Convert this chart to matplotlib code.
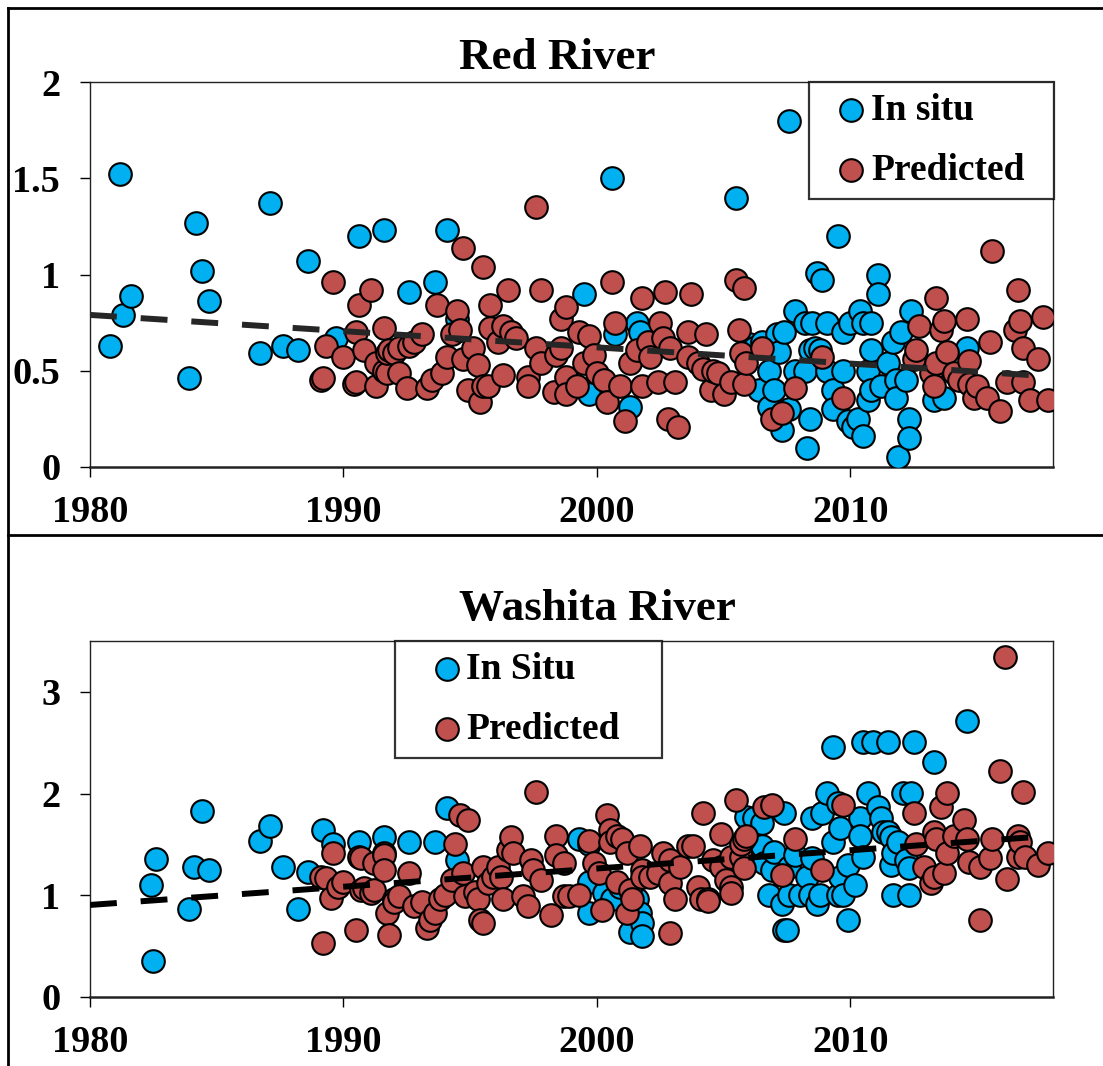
import matplotlib
matplotlib.use("Agg")
import matplotlib.pyplot as plt
from matplotlib.lines import Line2D
from matplotlib.ticker import FuncFormatter

plt.rcParams["font.family"] = ["Liberation Serif", "DejaVu Serif"]
plt.rcParams["font.weight"] = "bold"

# ---- Red River ----
rr_insitu_year = [1980.8, 1981.3, 1981.6, 1981.2, 1983.9, 1984.2, 1984.4, 1984.7, 1986.7, 1987.1,
                  1987.6, 1988.2, 1988.6, 1989.7, 1990.6, 1991.6, 1992.6, 1993.6, 1994.1, 1994.5,
                  1999.5, 1999.7, 2000.6, 2000.7, 2001.3, 2001.6, 2001.7, 2005.5, 2006.0, 2006.2,
                  2006.4, 2006.5, 2006.8, 2006.8, 2007.0, 2007.1, 2007.2, 2007.3, 2007.4, 2007.6,
                  2007.6, 2007.8, 2007.8, 2008.2, 2008.2, 2008.3, 2008.4, 2008.4, 2008.5, 2008.6,
                  2008.7, 2008.8, 2008.9, 2009.1, 2009.1, 2009.3, 2009.3, 2009.5, 2009.7, 2009.7,
                  2009.9, 2010.0, 2010.1, 2010.3, 2010.4, 2010.5, 2010.5, 2010.7, 2010.7, 2010.8,
                  2010.8, 2010.8, 2011.1, 2011.1, 2011.2, 2011.5, 2011.7, 2011.8, 2011.8, 2011.9,
                  2012.0, 2012.2, 2012.3, 2012.3, 2012.4, 2013.3, 2013.7, 2014.6]
rr_insitu_val = [0.63, 0.79, 0.89, 1.52, 0.46, 1.27, 1.02, 0.86, 0.59, 1.37,
                 0.63, 0.61, 1.07, 0.67, 1.20, 1.23, 0.91, 0.96, 1.23, 0.77,
                 0.90, 0.38, 1.50, 0.69, 0.31, 0.75, 0.70, 1.40, 0.64, 0.62,
                 0.40, 0.65, 0.50, 0.31, 0.40, 0.69, 0.60, 0.19, 0.70, 1.80,
                 0.30, 0.81, 0.50, 0.75, 0.50, 0.10, 0.61, 0.25, 0.75, 0.62,
                 1.01, 0.61, 0.97, 0.75, 0.50, 0.40, 0.30, 1.20, 0.70, 0.50,
                 0.24, 0.75, 0.21, 0.25, 0.81, 0.75, 0.16, 0.50, 0.35, 0.75,
                 0.61, 0.40, 1.00, 0.90, 0.42, 0.54, 0.65, 0.45, 0.36, 0.05,
                 0.70, 0.45, 0.25, 0.15, 0.81, 0.35, 0.36, 0.62]

rr_pred_year = [1989.1, 1989.2, 1989.3, 1989.6, 1990.0, 1990.4, 1990.5, 1990.5, 1990.6, 1990.8,
                1991.1, 1991.3, 1991.3, 1991.6, 1991.6, 1991.7, 1991.7, 1991.8, 1992.0, 1992.2,
                1992.2, 1992.5, 1992.6, 1992.8, 1993.1, 1993.3, 1993.5, 1993.7, 1993.9, 1994.1,
                1994.3, 1994.5, 1994.6, 1994.7, 1994.7, 1994.9, 1995.1, 1995.3, 1995.4, 1995.5,
                1995.5, 1995.7, 1995.8, 1995.8, 1996.1, 1996.3, 1996.3, 1996.5, 1996.6, 1996.8,
                1997.3, 1997.3, 1997.6, 1997.6, 1997.8, 1997.8, 1998.3, 1998.4, 1998.6, 1998.6,
                1998.8, 1998.8, 1998.8, 1999.2, 1999.3, 1999.5, 1999.7, 1999.9, 2000.0, 2000.3,
                2000.4, 2000.6, 2000.7, 2000.9, 2001.1, 2001.3, 2001.6, 2001.8, 2001.8, 2002.0,
                2002.1, 2002.4, 2002.5, 2002.6, 2002.7, 2002.8, 2002.9, 2003.1, 2003.2, 2003.6,
                2003.6, 2003.7, 2004.0, 2004.2, 2004.3, 2004.5, 2004.6, 2004.8, 2005.0, 2005.3,
                2005.5, 2005.6, 2005.7, 2005.8, 2005.8, 2005.9, 2006.5, 2006.9, 2007.3, 2007.8,
                2008.9, 2009.7, 2012.5, 2012.6, 2012.7, 2013.2, 2013.3, 2013.4, 2013.4, 2013.6,
                2013.7, 2013.8, 2014.1, 2014.3, 2014.6, 2014.7, 2014.7, 2014.9, 2015.0, 2015.4,
                2015.5, 2015.6, 2015.9, 2016.2, 2016.5, 2016.6, 2016.7, 2016.8, 2016.8, 2017.1,
                2017.4, 2017.6, 2017.8]
rr_pred_val = [0.45, 0.46, 0.63, 0.96, 0.57, 0.43, 0.70, 0.44, 0.84, 0.61,
               0.92, 0.42, 0.54, 0.72, 0.50, 0.49, 0.59, 0.61, 0.59, 0.62,
               0.49, 0.41, 0.63, 0.65, 0.69, 0.41, 0.45, 0.84, 0.49, 0.57,
               0.69, 0.81, 0.71, 1.14, 0.56, 0.40, 0.62, 0.53, 0.34, 1.04,
               0.42, 0.42, 0.84, 0.72, 0.65, 0.73, 0.48, 0.92, 0.70, 0.67,
               0.47, 0.42, 1.35, 0.62, 0.92, 0.54, 0.39, 0.58, 0.77, 0.62,
               0.83, 0.47, 0.38, 0.42, 0.70, 0.54, 0.68, 0.58, 0.49, 0.45,
               0.34, 0.96, 0.75, 0.42, 0.24, 0.54, 0.61, 0.88, 0.42, 0.65,
               0.57, 0.44, 0.75, 0.67, 0.91, 0.25, 0.62, 0.44, 0.21, 0.70,
               0.57, 0.90, 0.54, 0.51, 0.69, 0.40, 0.50, 0.49, 0.38, 0.44,
               0.97, 0.71, 0.59, 0.93, 0.43, 0.54, 0.62, 0.25, 0.28, 0.41,
               0.57, 0.36, 0.56, 0.61, 0.73, 0.49, 0.42, 0.88, 0.54, 0.71,
               0.76, 0.60, 0.49, 0.45, 0.77, 0.55, 0.43, 0.36, 0.42, 0.36,
               0.65, 1.12, 0.29, 0.44, 0.71, 0.92, 0.76, 0.62, 0.44, 0.35,
               0.56, 0.78, 0.35]

rr_trend_year = [1980.0, 2017.4]
rr_trend_val = [0.79, 0.475]

# ---- Washita River ----
wr_insitu_year = [1982.4, 1982.5, 1982.6, 1983.9, 1984.1, 1984.4, 1984.7, 1986.7, 1987.1, 1987.6,
                  1988.2, 1988.6, 1989.2, 1989.6, 1990.6, 1991.6, 1992.6, 1993.6, 1994.1, 1994.5,
                  1999.3, 1999.7, 1999.7, 1999.7, 2000.3, 2000.6, 2000.9, 2001.3, 2001.6, 2001.7,
                  2001.8, 2001.8, 2005.9, 2006.2, 2006.5, 2006.5, 2006.6, 2006.8, 2006.9, 2007.0,
                  2007.3, 2007.4, 2007.4, 2007.5, 2007.6, 2007.6, 2007.8, 2008.0, 2008.3, 2008.4,
                  2008.5, 2008.5, 2008.7, 2008.8, 2008.9, 2009.1, 2009.3, 2009.3, 2009.5, 2009.5,
                  2009.6, 2009.6, 2009.7, 2009.9, 2009.9, 2010.2, 2010.4, 2010.4, 2010.5, 2010.5,
                  2010.7, 2010.9, 2011.1, 2011.2, 2011.3, 2011.5, 2011.5, 2011.6, 2011.6, 2011.7,
                  2011.7, 2011.9, 2012.1, 2012.2, 2012.3, 2012.3, 2012.4, 2012.5, 2013.3, 2014.6]
wr_insitu_val = [1.10, 0.35, 1.36, 0.87, 1.28, 1.83, 1.25, 1.53, 1.68, 1.28,
                 0.87, 1.23, 1.64, 1.50, 1.52, 1.57, 1.52, 1.52, 1.86, 1.35,
                 1.55, 1.50, 1.13, 0.83, 1.02, 0.96, 1.08, 0.64, 0.96, 0.83,
                 0.73, 0.60, 1.77, 1.76, 1.71, 1.48, 1.32, 1.00, 1.25, 1.43,
                 0.91, 1.81, 0.66, 0.66, 1.28, 1.00, 1.40, 1.00, 1.18, 1.00,
                 1.76, 1.37, 0.91, 1.00, 1.81, 2.01, 2.46, 1.52, 1.91, 1.00,
                 1.66, 1.18, 1.00, 1.30, 0.76, 1.10, 1.76, 1.58, 2.51, 1.38,
                 2.01, 2.51, 1.87, 1.76, 1.62, 2.51, 1.62, 1.57, 1.30, 1.42,
                 1.00, 1.52, 2.01, 1.35, 1.27, 1.00, 2.01, 2.51, 2.31, 2.71]

wr_pred_year = [1989.1, 1989.2, 1989.3, 1989.5, 1989.6, 1989.8, 1990.0, 1990.5, 1990.6, 1990.7,
                1990.7, 1990.8, 1991.1, 1991.2, 1991.2, 1991.6, 1991.6, 1991.6, 1991.7, 1991.8,
                1992.0, 1992.0, 1992.2, 1992.6, 1992.8, 1993.1, 1993.3, 1993.4, 1993.6, 1993.8,
                1994.0, 1994.3, 1994.4, 1994.6, 1994.7, 1994.8, 1994.9, 1995.2, 1995.3, 1995.4,
                1995.5, 1995.5, 1995.7, 1995.9, 1996.1, 1996.2, 1996.3, 1996.5, 1996.6, 1996.7,
                1997.1, 1997.3, 1997.4, 1997.5, 1997.6, 1997.8, 1998.2, 1998.4, 1998.4, 1998.7,
                1998.7, 1998.9, 1999.3, 1999.7, 1999.9, 2000.1, 2000.2, 2000.4, 2000.5, 2000.5,
                2000.8, 2000.8, 2001.0, 2001.2, 2001.2, 2001.3, 2001.4, 2001.7, 2001.8, 2001.8,
                2002.1, 2002.4, 2002.6, 2002.9, 2002.9, 2002.9, 2003.1, 2003.3, 2003.6, 2003.8,
                2004.0, 2004.1, 2004.2, 2004.4, 2004.4, 2004.6, 2004.9, 2004.9, 2005.1, 2005.3,
                2005.3, 2005.3, 2005.5, 2005.7, 2005.7, 2005.8, 2005.8, 2005.9, 2006.6, 2006.9,
                2007.3, 2007.8, 2008.9, 2009.7, 2012.5, 2012.6, 2012.9, 2013.2, 2013.3, 2013.3,
                2013.4, 2013.6, 2013.7, 2013.8, 2013.8, 2014.1, 2014.5, 2014.6, 2014.7, 2015.1,
                2015.1, 2015.5, 2015.6, 2015.9, 2016.1, 2016.2, 2016.6, 2016.6, 2016.7, 2016.8,
                2016.9, 2017.4, 2017.8]
wr_pred_val = [1.18, 0.53, 1.17, 0.97, 1.42, 1.08, 1.13, 0.66, 1.38, 1.37,
               1.05, 1.07, 1.02, 1.05, 1.32, 1.42, 1.40, 1.25, 0.83, 0.61,
               0.96, 0.93, 0.99, 1.22, 0.89, 0.93, 0.68, 0.76, 0.83, 0.96,
               1.00, 1.15, 1.50, 1.79, 1.22, 0.99, 1.74, 1.03, 0.96, 0.76,
               0.73, 1.28, 1.12, 1.18, 1.28, 1.18, 0.96, 1.45, 1.57, 1.42,
               0.99, 0.89, 1.35, 1.25, 2.02, 1.15, 0.81, 1.58, 1.40, 1.32,
               0.99, 0.99, 1.00, 1.53, 1.32, 1.22, 0.86, 1.79, 1.64, 1.52,
               1.58, 1.13, 1.55, 1.42, 0.83, 1.05, 0.96, 1.48, 1.25, 1.18,
               1.18, 1.22, 1.42, 1.35, 1.12, 0.63, 0.96, 1.28, 1.48, 1.48,
               1.08, 0.96, 1.81, 0.96, 0.94, 1.35, 1.60, 1.28, 1.15, 1.38,
               1.08, 1.02, 1.94, 1.38, 1.50, 1.55, 1.27, 1.58, 1.87, 1.89,
               1.20, 1.55, 1.25, 1.89, 1.81, 1.50, 1.28, 1.12, 1.62, 1.18,
               1.55, 1.87, 1.22, 2.01, 1.42, 1.58, 1.74, 1.55, 1.33, 1.28,
               0.76, 1.37, 1.55, 2.22, 3.34, 1.16, 1.58, 1.38, 1.52, 2.02,
               1.38, 1.30, 1.42]

wr_trend_year = [1980.0, 2017.4]
wr_trend_val = [0.905, 1.575]

blue = "#00B0F0"
red = "#C0504D"

W, H = 1103, 1066
fig = plt.figure(figsize=(W / 100, H / 100), dpi=100)


def add_axes_px(x0, y0, x1, y1):
    return fig.add_axes([x0 / W, 1 - y1 / H, (x1 - x0) / W, (y1 - y0) / H])


def style_axes(ax, ymax, yticks):
    ax.set_xlim(1980, 2018)
    ax.set_ylim(0, ymax)
    ax.set_xticks([1980, 1990, 2000, 2010])
    ax.set_yticks(yticks)
    ax.yaxis.set_major_formatter(FuncFormatter(lambda v, p: "%g" % v))
    ax.tick_params(axis="both", direction="out", length=7.5, width=1.0,
                   labelsize=27.5, pad=14, colors="black")
    ax.tick_params(axis="x", pad=13)
    for side in ["top", "right", "left"]:
        ax.spines[side].set_linewidth(1.0)
        ax.spines[side].set_color("#222222")
    ax.spines["bottom"].set_linewidth(1.8)
    ax.spines["bottom"].set_color("#222222")
    for lab in ax.get_xticklabels() + ax.get_yticklabels():
        lab.set_fontweight("bold")


def draw_panel(ax, ins_x, ins_y, pred_x, pred_y, tr_x, tr_y, tr_color, labels,
               leg_box, hlen, hpad):
    ax.scatter(ins_x, ins_y, s=265, c=blue, edgecolors="black", linewidths=1.5,
               zorder=3, label=labels[0])
    ax.scatter(pred_x, pred_y, s=265, c=red, edgecolors="black", linewidths=1.5,
               zorder=4, label=labels[1])
    ax.plot(tr_x, tr_y, color=tr_color, lw=4.3, dashes=(4.5, 4.0),
            solid_capstyle="butt", dash_capstyle="butt", zorder=5)
    leg = ax.legend(loc="upper left", bbox_to_anchor=leg_box, mode="expand",
                    borderaxespad=0, fontsize=27, frameon=True, fancybox=False,
                    borderpad=0.3, handlelength=hlen, handletextpad=hpad,
                    labelspacing=0.66, scatterpoints=1)
    leg.get_frame().set_edgecolor("black")
    leg.get_frame().set_linewidth(1.6)
    leg.set_zorder(10)


ax1 = add_axes_px(90, 82, 1053, 467)
style_axes(ax1, 2, [0, 0.5, 1, 1.5, 2])
draw_panel(ax1, rr_insitu_year, rr_insitu_val, rr_pred_year, rr_pred_val,
           rr_trend_year, rr_trend_val, "#262626", ["In situ", "Predicted"],
           (0.7466, 0.0, 0.2544, 1.0), 1.63, -0.27)

ax2 = add_axes_px(90, 641, 1053, 997)
style_axes(ax2, 3.5, [0, 1, 2, 3])
draw_panel(ax2, wr_insitu_year, wr_insitu_val, wr_pred_year, wr_pred_val,
           wr_trend_year, wr_trend_val, "black", ["In Situ", "Predicted"],
           (0.3167, 0.0, 0.2773, 1.0), 2.16, -0.56)

fig.text(557 / W, 1 - 69 / H, "Red River", ha="center", va="baseline",
         fontsize=32.5, fontweight="bold")
fig.text(597 / W, 1 - 620 / H, "Washita River", ha="center", va="baseline",
         fontsize=32.5, fontweight="bold")

# chart frames around the two panels
frame_kw = dict(color="black", lw=2.0, transform=fig.transFigure)
fig.add_artist(Line2D([8 / W, 1.0], [1 - 8 / H, 1 - 8 / H], **frame_kw))
fig.add_artist(Line2D([8 / W, 8 / W], [1 - 8 / H, 0.0], **frame_kw))
fig.add_artist(Line2D([8 / W, 1.0], [1 - 535 / H, 1 - 535 / H], **frame_kw))

fig.savefig("out.png", dpi=100)
